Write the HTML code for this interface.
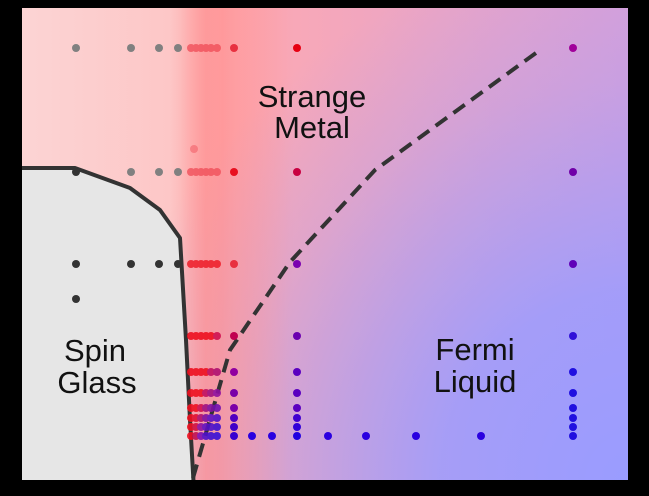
<!DOCTYPE html>
<html><head><style>
html,body{margin:0;padding:0;background:#000;}
svg{display:block}
text{font-family:"Liberation Sans",sans-serif;font-size:31px;fill:#111;text-anchor:middle}
</style></head><body>
<svg width="649" height="496" viewBox="0 0 649 496">
<defs>
<clipPath id="c"><rect x="22" y="8" width="606" height="472"/></clipPath>
<linearGradient id="h" x1="22" x2="628" y1="0" y2="0" gradientUnits="userSpaceOnUse">
<stop offset="0" stop-color="#fcd4d4"/>
<stop offset="0.26" stop-color="#fdc6c6"/>
<stop offset="0.33" stop-color="#ff9ea2"/>
<stop offset="0.45" stop-color="#f8a8b8"/>
<stop offset="1" stop-color="#d8a0d8"/>
</linearGradient>
<radialGradient id="b" cx="628" cy="480" r="530" gradientUnits="userSpaceOnUse">
<stop offset="0" stop-color="#9a9cff" stop-opacity="1"/>
<stop offset="0.35" stop-color="#9a9cff" stop-opacity="0.85"/>
<stop offset="0.75" stop-color="#9a9cff" stop-opacity="0.25"/>
<stop offset="1" stop-color="#9a9cff" stop-opacity="0"/>
</radialGradient>
<linearGradient id="r" x1="170" x2="290" y1="0" y2="0" gradientUnits="userSpaceOnUse">
<stop offset="0" stop-color="#ff8a8a" stop-opacity="0"/>
<stop offset="0.3" stop-color="#ff8a8a" stop-opacity="0.55"/>
<stop offset="0.55" stop-color="#ff9a9a" stop-opacity="0.35"/>
<stop offset="1" stop-color="#ff9a9a" stop-opacity="0"/>
</linearGradient>
</defs>
<g clip-path="url(#c)">
<rect x="22" y="8" width="606" height="472" fill="url(#h)"/>
<rect x="22" y="8" width="606" height="472" fill="url(#b)"/>
<rect x="170" y="8" width="120" height="472" fill="url(#r)"/>
<polygon points="10,168 75,168 130,188 160,210 180,238 186,340 190,420 194,490 10,490" fill="#e6e6e6" stroke="#333" stroke-width="4" stroke-linejoin="round"/>
</g>
<path d="M193,478 L230,350 L290,262 L375,170 L540,50" fill="none" stroke="#333" stroke-width="4" stroke-dasharray="14,8"/>
<g>
<g fill="#808080"><circle cx="76" cy="48" r="4"/><circle cx="131" cy="48" r="4"/><circle cx="159" cy="48" r="4"/><circle cx="178" cy="48" r="4"/>
<circle cx="131" cy="172" r="4"/><circle cx="159" cy="172" r="4"/><circle cx="178" cy="172" r="4"/></g>
<g fill="#333"><circle cx="76" cy="172" r="4"/><circle cx="76" cy="264" r="4"/><circle cx="131" cy="264" r="4"/><circle cx="159" cy="264" r="4"/><circle cx="178" cy="264" r="4"/><circle cx="76" cy="299" r="4"/></g>
<g fill="#f04a55" opacity="0.75">
<circle cx="191" cy="48" r="4"/><circle cx="196" cy="48" r="4"/><circle cx="201" cy="48" r="4"/><circle cx="206" cy="48" r="4"/><circle cx="211" cy="48" r="4"/><circle cx="217" cy="48" r="4"/>
<circle cx="191" cy="172" r="4"/><circle cx="196" cy="172" r="4"/><circle cx="201" cy="172" r="4"/><circle cx="206" cy="172" r="4"/><circle cx="211" cy="172" r="4"/><circle cx="217" cy="172" r="4"/>
<circle cx="194" cy="149" r="4" opacity="0.6"/>
</g>
<g fill="#ee1c28" opacity="0.85">
<circle cx="191" cy="264" r="4"/><circle cx="196" cy="264" r="4"/><circle cx="201" cy="264" r="4"/><circle cx="206" cy="264" r="4"/><circle cx="211" cy="264" r="4"/><circle cx="217" cy="264" r="4"/>
</g>
<circle cx="234" cy="48" r="4" fill="#e83040"/><circle cx="234" cy="172" r="4" fill="#e81020"/><circle cx="234" cy="264" r="4" fill="#e83040"/>
<circle cx="297" cy="48" r="4" fill="#e60012"/><circle cx="297" cy="172" r="4" fill="#c80040"/><circle cx="297" cy="264" r="4" fill="#7a00b0"/>
<circle cx="573" cy="48" r="4" fill="#a0009a"/><circle cx="573" cy="172" r="4" fill="#7000a8"/><circle cx="573" cy="264" r="4" fill="#6000b8"/>
<g fill="#ee1020" opacity="0.9">
<circle cx="191" cy="336" r="4"/><circle cx="196" cy="336" r="4"/><circle cx="201" cy="336" r="4"/><circle cx="206" cy="336" r="4"/><circle cx="211" cy="336" r="4"/><circle cx="217" cy="336" r="4" fill="#d01050"/>
<circle cx="191" cy="372" r="4"/><circle cx="196" cy="372" r="4"/><circle cx="201" cy="372" r="4"/><circle cx="206" cy="372" r="4"/><circle cx="211" cy="372" r="4" fill="#c01060"/><circle cx="217" cy="372" r="4" fill="#b01070"/>
<circle cx="191" cy="393" r="4"/><circle cx="196" cy="393" r="4"/><circle cx="201" cy="393" r="4"/><circle cx="206" cy="393" r="4" fill="#c01060"/><circle cx="211" cy="393" r="4" fill="#a01080"/><circle cx="217" cy="393" r="4" fill="#9010a0"/>
<circle cx="191" cy="408" r="4"/><circle cx="196" cy="408" r="4"/><circle cx="201" cy="408" r="4" fill="#d01050"/><circle cx="206" cy="408" r="4" fill="#a01080"/><circle cx="211" cy="408" r="4" fill="#8010a0"/><circle cx="217" cy="408" r="4" fill="#7010b0"/>
</g>
<g opacity="0.9">
<circle cx="191" cy="418" r="4" fill="#ee1020"/><circle cx="196" cy="418" r="4" fill="#e01030"/><circle cx="201" cy="418" r="4" fill="#b01070"/><circle cx="206" cy="418" r="4" fill="#8010a0"/><circle cx="211" cy="418" r="4" fill="#6010c0"/><circle cx="217" cy="418" r="4" fill="#5010c8"/>
<circle cx="191" cy="427" r="4" fill="#ee1020"/><circle cx="196" cy="427" r="4" fill="#d01040"/><circle cx="201" cy="427" r="4" fill="#9010a0"/><circle cx="206" cy="427" r="4" fill="#6010c0"/><circle cx="211" cy="427" r="4" fill="#5010c8"/><circle cx="217" cy="427" r="4" fill="#4010d0"/>
<circle cx="191" cy="436" r="4" fill="#ee1020"/><circle cx="196" cy="436" r="4" fill="#c01050"/><circle cx="201" cy="436" r="4" fill="#8010b0"/><circle cx="206" cy="436" r="4" fill="#5010c8"/><circle cx="211" cy="436" r="4" fill="#4010d0"/><circle cx="217" cy="436" r="4" fill="#3810d8"/>
</g>
<g fill="#7a00a8"><circle cx="234" cy="336" r="4" fill="#c00050"/><circle cx="234" cy="372" r="4" fill="#9000a0"/><circle cx="234" cy="393" r="4"/><circle cx="234" cy="408" r="4"/><circle cx="234" cy="418" r="4" fill="#5000c0"/><circle cx="234" cy="427" r="4" fill="#4000c8"/><circle cx="234" cy="436" r="4" fill="#3800d0"/></g>
<g fill="#5a00c0"><circle cx="297" cy="336" r="4" fill="#6a00b0"/><circle cx="297" cy="372" r="4"/><circle cx="297" cy="393" r="4"/><circle cx="297" cy="408" r="4"/><circle cx="297" cy="418" r="4" fill="#4000d0"/><circle cx="297" cy="427" r="4" fill="#3000d8"/><circle cx="297" cy="436" r="4" fill="#2000e0"/></g>
<g fill="#2010e0"><circle cx="573" cy="336" r="4" fill="#3010d8"/><circle cx="573" cy="372" r="4"/><circle cx="573" cy="393" r="4"/><circle cx="573" cy="408" r="4"/><circle cx="573" cy="418" r="4"/><circle cx="573" cy="427" r="4"/><circle cx="573" cy="436" r="4"/></g>
<g fill="#2a00e0"><circle cx="252" cy="436" r="4"/><circle cx="272" cy="436" r="4"/><circle cx="328" cy="436" r="4"/><circle cx="366" cy="436" r="4"/><circle cx="416" cy="436" r="4"/><circle cx="481" cy="436" r="4"/></g>
</g>
<text x="312" y="107">Strange</text>
<text x="312" y="138">Metal</text>
<text x="95" y="361">Spin</text>
<text x="97" y="393">Glass</text>
<text x="475" y="360">Fermi</text>
<text x="475" y="392">Liquid</text>
</svg>
</body></html>
